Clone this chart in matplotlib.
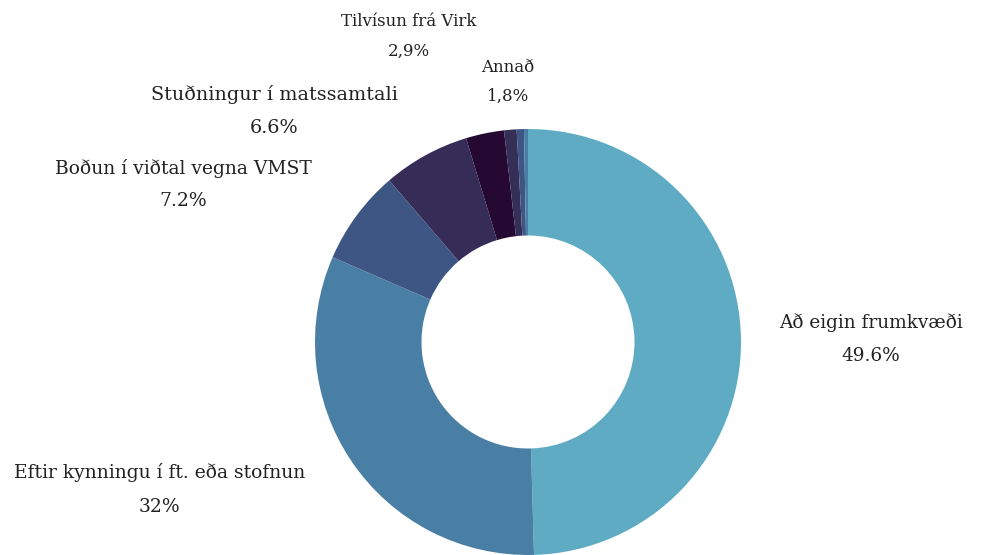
import matplotlib
matplotlib.use("Agg")
import matplotlib.pyplot as plt

# ---------------------------------------------------------
# DATA
# ---------------------------------------------------------

categories = [
    "Að eigin frumkvæði",
    "Eftir kynningu í ft. eða stofnun",
    "Boðun í viðtal vegna VMST",
    "Stuðningur í matssamtali",
    "Tilvísun frá Virk",
    "Annað",
]
shares = [49.6, 32, 7.2, 6.6, 2.9]
# "Annað" is drawn as a few thin slivers at the top
other_parts = [0.95, 0.55, 0.3]
pct_labels = ["49.6%", "32%", "7.2%", "6.6%", "2,9%", "1,8%"]

# ---------------------------------------------------------
# STYLE
# ---------------------------------------------------------

colors = ["#60abc4", "#4a7fa5", "#3e5683", "#352c57", "#250933",
          "#352f58", "#3e5683", "#4a7fa5"]
text_color = "#222222"

# label centres in pie-radius units (x, name line y, percent line y)
label_pos = [
    (1.61, 0.09, -0.065),
    (-1.73, -0.615, -0.775),
    (-1.62, 0.815, 0.66),
    (-1.19, 1.16, 1.005),
    (-0.56, 1.505, 1.365),
    (-0.095, 1.29, 1.155),
]
label_size = [13.3, 13.5, 13.5, 13.8, 12, 12]

plt.rcParams["font.family"] = ["DejaVu Serif"]

fig = plt.figure(figsize=(9.86, 5.55), dpi=100)
ax = fig.add_axes([0, 0, 1, 1])

ax.pie(
    shares + other_parts,
    colors=colors,
    startangle=90,
    counterclock=False,
    radius=1.0,
    wedgeprops=dict(width=0.5, linewidth=0),
)

for name, pct, (x, y_name, y_pct), fs in zip(categories, pct_labels, label_pos, label_size):
    ax.text(x, y_name, name, ha="center", va="center", fontsize=fs, color=text_color)
    ax.text(x, y_pct, pct, ha="center", va="center", fontsize=fs, color=text_color)

# center of the ring at (528, 342) px, radius 213 px
r_px = 213
ax.set_xlim(-528 / r_px, (986 - 528) / r_px)
ax.set_ylim(-(555 - 342) / r_px, 342 / r_px)
ax.set_aspect("equal")
ax.axis("off")

fig.savefig("out.png", dpi=100)
